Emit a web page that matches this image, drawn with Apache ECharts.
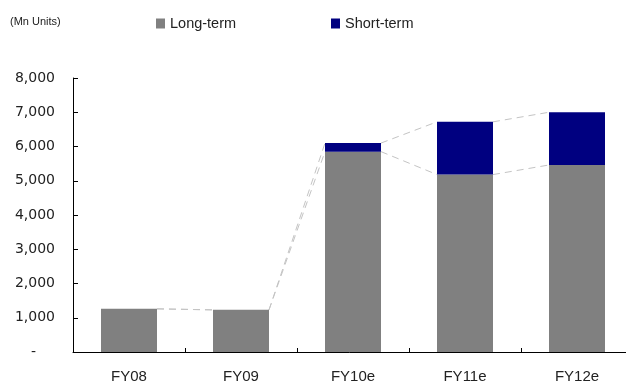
<!DOCTYPE html>
<html><head><meta charset="utf-8">
<script src="https://cdn.jsdelivr.net/npm/echarts@6/dist/echarts.min.js"></script>
<style>html,body{margin:0;padding:0;background:#fff}#c{width:626px;height:383px}</style>
</head><body><div id="c"></div>
<script>
const categories = ['FY08', 'FY09', 'FY10e', 'FY11e', 'FY12e'];
const longTerm = [1260, 1230, 5850, 5180, 5460];
const shortTerm = [0, 0, 250, 1540, 1540];
const yMin = 0, yMax = 8000, yStep = 1000;
const unitLabel = '(Mn Units)';
const seriesNames = ['Long-term', 'Short-term'];

const totals = longTerm.map((v, i) => v + shortTerm[i]);
const BAR_FRAC = 0.5;
const TEXT = '#222';

function seriesLine(values) {
  return {
    type: 'custom', silent: true, z: 1,
    data: values.slice(0, -1).map((v, i) => [i, v, values[i + 1]]),
    encode: { x: 0, y: 1 },
    renderItem(params, api) {
      const i = api.value(0);
      const band = api.size([1, 0])[0];
      const half = band * BAR_FRAC / 2;
      const p1 = api.coord([i, api.value(1)]);
      const p2 = api.coord([i + 1, api.value(2)]);
      return {
        type: 'line',
        shape: { x1: p1[0] + half, y1: p1[1], x2: p2[0] - half, y2: p2[1] },
        style: { stroke: '#c4c4c4', lineWidth: 1, lineDash: [7, 5] }
      };
    }
  };
}

const legendBase = {
  top: 11, itemWidth: 9, itemHeight: 10, icon: 'rect', itemGap: 0,
  textStyle: { fontSize: 14.5, fontFamily: 'Liberation Sans', color: TEXT }
};

const chart = echarts.init(document.getElementById('c'));
chart.setOption({
  animation: false,
  backgroundColor: '#fff',
  title: {
    text: unitLabel, left: 5, top: 11,
    textStyle: { fontSize: 11, fontWeight: 'normal', fontFamily: 'Liberation Sans', color: TEXT }
  },
  legend: [
    Object.assign({}, legendBase, { data: [seriesNames[0]], left: 151 }),
    Object.assign({}, legendBase, { data: [seriesNames[1]], left: 326 })
  ],
  grid: { left: 73, right: -7, top: 78, bottom: 31, containLabel: false, outerBoundsMode: 'none' },
  xAxis: {
    type: 'category', data: categories,
    axisLine: { lineStyle: { color: '#000', width: 1 } },
    axisTick: { show: true, inside: true, length: 4, lineStyle: { color: '#000' } },
    axisLabel: { margin: 17, fontSize: 15, fontFamily: 'Liberation Sans', color: TEXT },
    splitLine: { show: false }
  },
  yAxis: {
    type: 'value', min: yMin, max: yMax, interval: yStep,
    axisLine: { show: true, lineStyle: { color: '#000', width: 1 } },
    axisTick: { show: true, inside: true, length: 5, lineStyle: { color: '#000' } },
    splitLine: { show: false },
    axisLabel: {
      margin: 18, fontSize: 14, fontFamily: 'DejaVu Sans', color: TEXT,
      formatter: v => v === 0 ? '{d|-}' : v.toLocaleString('en-US'),
      rich: { d: { fontSize: 14, fontFamily: 'DejaVu Sans', color: TEXT, padding: [0, 19, 0, 0] } }
    }
  },
  series: [
    { name: seriesNames[0], type: 'bar', stack: 'a', barWidth: (BAR_FRAC * 100) + '%', data: longTerm, itemStyle: { color: '#808080' }, z: 2 },
    { name: seriesNames[1], type: 'bar', stack: 'a', barWidth: (BAR_FRAC * 100) + '%', data: shortTerm, itemStyle: { color: '#000080' }, z: 2 },
    seriesLine(longTerm),
    seriesLine(totals)
  ]
});
</script></body></html>
